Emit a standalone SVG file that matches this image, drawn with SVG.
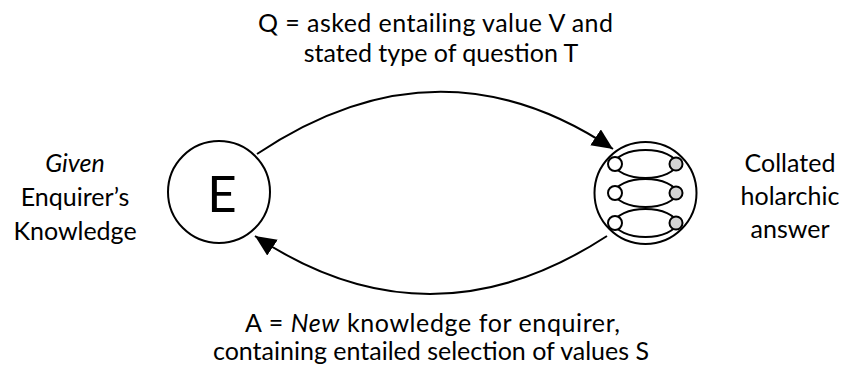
<svg xmlns="http://www.w3.org/2000/svg" width="845" height="367" viewBox="0 0 845 367">
  <style>
    .lbl { font-family: Lato, "Liberation Sans", sans-serif; font-size: 25px; fill: #000; text-anchor: middle; }
    .it { font-style: italic; }
    .ring { fill: #fff; stroke: #000; stroke-width: 2; }
    .lens { fill: none; stroke: #000; stroke-width: 2; }
    .dotL { fill: #fff; stroke: #000; stroke-width: 2; }
    .dotR { fill: #d4d4d4; stroke: #000; stroke-width: 2; }
    .edge { fill: none; stroke: #000; stroke-width: 2; }
  </style>
  <defs>
    <marker id="arrow" markerUnits="userSpaceOnUse" markerWidth="24" markerHeight="20" refX="21" refY="9.5" orient="auto">
      <path d="M0,0 L21,9.5 L0,19 Z" fill="#000"/>
    </marker>
  </defs>
  <rect width="845" height="367" fill="#fff"/>

  <g id="connectors">
    <path id="question" class="edge" d="M257,154 Q439,32 613,149" marker-end="url(#arrow)"/>
    <path id="answer" class="edge" d="M607,236 Q429,352 255,236" marker-end="url(#arrow)"/>
  </g>

  <g id="enquirer">
    <circle class="ring" cx="219" cy="192" r="51"/>
    <text class="lbl" x="222" y="212" style="font-size:51px">E</text>
  </g>

  <g id="holarchy">
    <circle class="ring" cx="645.5" cy="193" r="51"/>
    <ellipse class="lens" cx="645.5" cy="164" rx="30.5" ry="14"/>
    <ellipse class="lens" cx="645.5" cy="193" rx="30.5" ry="14"/>
    <ellipse class="lens" cx="645.5" cy="223" rx="30.5" ry="14"/>
    <circle class="dotL" cx="615" cy="164" r="7"/>
    <circle class="dotL" cx="615" cy="193" r="7"/>
    <circle class="dotL" cx="615" cy="223" r="7"/>
    <circle class="dotR" cx="676" cy="164" r="6.5"/>
    <circle class="dotR" cx="676" cy="193" r="6.5"/>
    <circle class="dotR" cx="676" cy="223" r="6.5"/>
  </g>

  <g id="enquirer-label">
    <text class="lbl" x="75" y="172"><tspan class="it">Given</tspan></text>
    <text class="lbl" x="75" y="206">Enquirer’s</text>
    <text class="lbl" x="75" y="240">Knowledge</text>
  </g>

  <g id="answer-label">
    <text class="lbl" x="790" y="172">Collated</text>
    <text class="lbl" x="790" y="205">holarchic</text>
    <text class="lbl" x="790" y="238">answer</text>
  </g>

  <g id="question-text">
    <text class="lbl" x="435.5" y="32" textLength="355">Q = asked entailing value V and</text>
    <text class="lbl" x="441" y="62">stated type of question T</text>
  </g>

  <g id="answer-text">
    <text class="lbl" x="432.5" y="332" textLength="375">A = <tspan class="it">New</tspan> knowledge for enquirer,</text>
    <text class="lbl" x="431" y="360">containing entailed selection of values S</text>
  </g>
</svg>
